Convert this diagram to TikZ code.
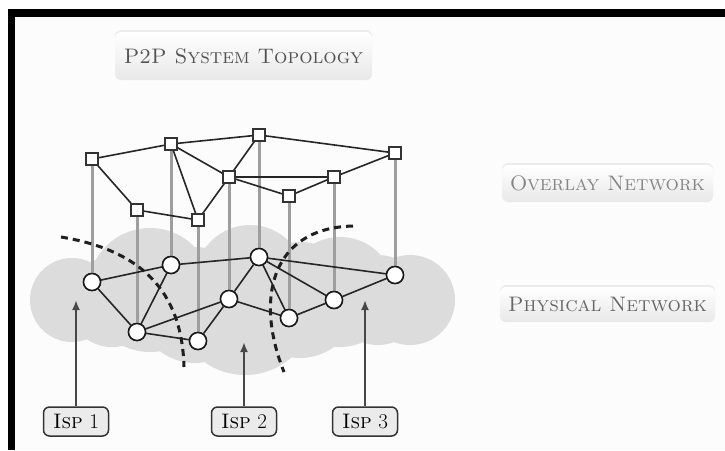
\documentclass[tikz,border=0pt]{standalone}
\usepackage{fontspec}
\usetikzlibrary{shadows,arrows.meta}

\definecolor{cloudgray}{HTML}{DCDCDC}
\definecolor{pagebg}{HTML}{FCFCFC}

\tikzset{
  peer/.style={circle, draw=black!90, fill=white, line width=1.5, minimum size=17, inner sep=0},
  ovl/.style={rectangle, draw=black!80, fill=white, line width=1.3, minimum size=12, inner sep=0},
  link/.style={line width=1.6, black!85},
  mapline/.style={line width=3, black!38},
  boundary/.style={line width=3, dash pattern=on 7 off 5, black!88},
  ispbox/.style={draw=black!80, fill=black!8, rounded corners=6, line width=1.5,
    minimum width=65, minimum height=29, inner sep=0, font=\fontsize{21}{24}\selectfont},
  tag/.style={rounded corners=6, top color=white, bottom color=black!9, inner sep=0,
    drop shadow={opacity=0.12, shadow xshift=0, shadow yshift=-2},
    font=\fontsize{21}{24}\selectfont},
  ispArrow/.style={line width=2, black!72, -{Latex[length=10, width=8]}}
}

\begin{document}
\begin{tikzpicture}[x=1pt, y=-1pt]
  % page and frame
  \useasboundingbox (0,0) rectangle (725,450);
  \fill[white] (0,0) rectangle (725,450);
  \fill[pagebg] (15,17) rectangle (725,450);
  \fill[black] (8,9) rectangle (725,17);
  \fill[black] (8,9) rectangle (15,450);

  % captions
  \node[tag, minimum width=257, minimum height=48, text=black!68] (title) at (243.5,56)
    {\textsc{P2P System Topology}};
  \node[tag, minimum width=211, minimum height=37, text=black!48] (overlay) at (607.5,183.5)
    {\textsc{Overlay Network}};
  \node[tag, minimum width=215, minimum height=35, text=black!60] (physical) at (607.5,304.5)
    {\textsc{Physical Network}};

  % cloud of the physical network
  \fill[cloudgray]
    (72,300) circle[radius=42]
    (112,302) circle[radius=45]
    (150,290) circle[radius=62]
    (195,305) circle[radius=58]
    (245,305) circle[radius=70]
    (250,280) circle[radius=55]
    (300,300) circle[radius=58]
    (340,292) circle[radius=55]
    (378,300) circle[radius=45]
    (410,300) circle[radius=45];

  % overlay peers
  \node[ovl] (s1) at (92,159) {};
  \node[ovl] (s2) at (171,144) {};
  \node[ovl] (s3) at (259,135) {};
  \node[ovl] (s4) at (395,153) {};
  \node[ovl] (s5) at (229,177) {};
  \node[ovl] (s6) at (334,177) {};
  \node[ovl] (s7) at (289,196) {};
  \node[ovl] (s8) at (137,210) {};
  \node[ovl] (s9) at (198,220) {};

  % physical hosts
  \node[peer] (c1) at (92,282) {};
  \node[peer] (c2) at (171,265) {};
  \node[peer] (c3) at (259,257) {};
  \node[peer] (c4) at (395,275) {};
  \node[peer] (c5) at (229,299) {};
  \node[peer] (c6) at (334,300) {};
  \node[peer] (c7) at (289,318) {};
  \node[peer] (c8) at (137,332) {};
  \node[peer] (c9) at (198,341) {};

  % mapping of overlay peers onto hosts
  \foreach \i in {1,...,9}
    \draw[mapline] (s\i.center) -- (c\i.center);

  % overlay links
  \foreach \a/\b in {s1/s2, s2/s3, s3/s4, s1/s8, s8/s9, s2/s9, s2/s5, s3/s5,
                     s5/s9, s5/s6, s5/s7, s7/s6, s6/s4}
    \draw[link] (\a) -- (\b);

  % physical links
  \foreach \a/\b in {c1/c2, c2/c3, c3/c4, c1/c8, c8/c2, c8/c5, c8/c9, c9/c5,
                     c5/c3, c5/c7, c3/c7, c3/c6, c7/c6, c6/c4}
    \draw[link] (\a) -- (\b);

  % ISP boundaries
  \coordinate (b1s) at (61,237);
  \coordinate (b1e) at (184,367);
  \coordinate (b2s) at (353,226);
  \coordinate (b2e) at (284,372);
  \draw[boundary] (b1s) .. controls (140,250) and (182,290) .. (b1e);
  \draw[boundary] (b2s) .. controls (270,228) and (255,300) .. (b2e);

  % peers and hosts drawn again above lines
  \foreach \x/\y in {92/159, 171/144, 259/135, 395/153, 229/177,
                     334/177, 289/196, 137/210, 198/220}
    \node[ovl] at (\x,\y) {};
  \foreach \x/\y in {92/282, 171/265, 259/257, 395/275, 229/299,
                     334/300, 289/318, 137/332, 198/341}
    \node[peer] at (\x,\y) {};

  % ISP labels
  \node[ispbox] (isp1) at (76,421.5) {\textsc{Isp} 1};
  \node[ispbox] (isp2) at (244,421.5) {\textsc{Isp} 2};
  \node[ispbox] (isp3) at (365,421.5) {\textsc{Isp} 3};
  \coordinate (t1) at (76,300);
  \coordinate (t2) at (244,342);
  \coordinate (t3) at (365,300);
  \draw[ispArrow] (isp1) -- (t1);
  \draw[ispArrow] (isp2) -- (t2);
  \draw[ispArrow] (isp3) -- (t3);
\end{tikzpicture}
\end{document}
